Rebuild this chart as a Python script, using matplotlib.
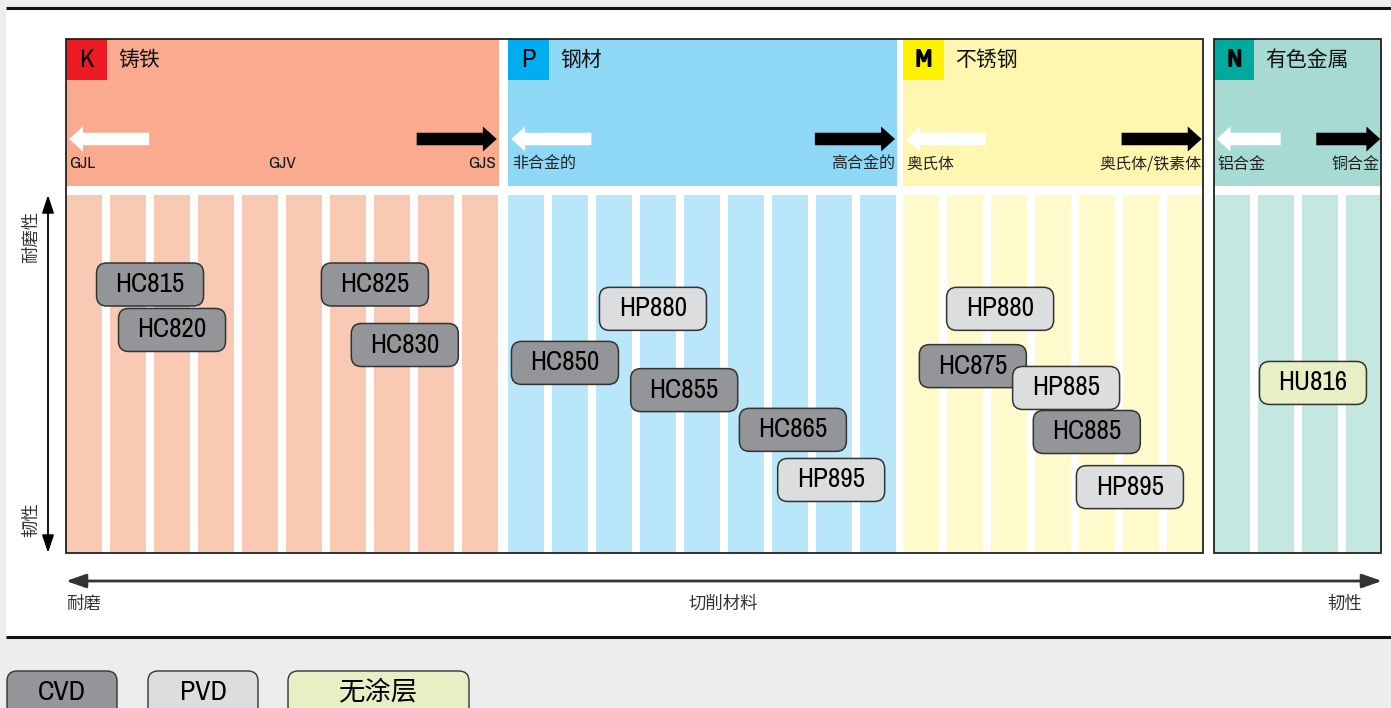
import matplotlib
matplotlib.use('Agg')
import matplotlib.pyplot as plt
from matplotlib import font_manager as fm
from matplotlib.patches import Rectangle, FancyBboxPatch

plt.rcParams['font.family'] = ['Noto Sans CJK SC', 'DejaVu Sans']

# narrow latin font for the grade names, if one is installed
def pick_narrow(bold=False):
    fonts = fm.fontManager.ttflist
    weights = (700, 'bold') if bold else (400, 'normal', 'regular')
    tests = [lambda f: f.name == 'Liberation Sans Narrow',
             lambda f: 'Narrow' in f.name or 'Condensed' in f.name,
             lambda f: f.stretch in ('condensed', 'semi-condensed', 'extra-condensed')]
    for test in tests:
        for f in fonts:
            if test(f) and f.style == 'normal' and f.weight in weights:
                return fm.FontProperties(fname=f.fname)
    return fm.FontProperties(family='Liberation Sans', weight='bold' if bold else 'normal')

narrow = pick_narrow()
narrow_b = pick_narrow(bold=True)

# ---- data ----
group_codes = ['K', 'P', 'M', 'N']
group_names = ['铸铁', '钢材', '不锈钢', '有色金属']
group_ncols = [10, 9, 7, 4]                 # number of stripe columns per group
group_start = [0.0, 10.05, 19.02, 26.08]    # first column of each group
group_left = ['GJL', '非合金的', '奥氏体', '铝合金']
group_mid = ['GJV', '', '', '']
group_right = ['GJS', '高合金的', '奥氏体/铁素体', '铜合金']

grade_names = ['HC815', 'HC820', 'HC825', 'HC830',
               'HP880', 'HC850', 'HC855', 'HC865', 'HP895',
               'HP880', 'HC875', 'HP885', 'HC885', 'HP895',
               'HU816']
grade_col = [1.91, 2.41, 7.02, 7.70,
             13.34, 11.34, 14.05, 16.52, 17.39,
             21.23, 20.61, 22.73, 23.20, 24.18,
             28.34]
grade_level = [75.0, 62.3, 75.0, 58.1,
               68.2, 53.1, 45.5, 34.4, 20.4,
               68.2, 52.2, 46.1, 33.8, 18.4,
               47.5]
grade_coat = ['CVD', 'CVD', 'CVD', 'CVD',
              'PVD', 'CVD', 'CVD', 'CVD', 'PVD',
              'PVD', 'CVD', 'PVD', 'CVD', 'PVD',
              '无涂层']

coat_labels = ['CVD', 'PVD', '无涂层']

# ---- styles ----
head_colors = ['#F9AA8F', '#8ED8F6', '#FFF7AF', '#A6DAD3']
stripe_colors = ['#FAC9B4', '#BAE6F9', '#FFFACC', '#C5E7E1']
code_colors = ['#ED1C24', '#00AEEF', '#FFF200', '#00A99D']
code_bold = [False, False, True, True]
coat_colors = {'CVD': '#939598', 'PVD': '#DCDDDF', '无涂层': '#E6F0C4'}

W, H = 1391, 708
fig = plt.figure(figsize=(W / 100, H / 100), dpi=100)
fig.patch.set_facecolor('#ECEEED')

# background layer in pixel units
bg = fig.add_axes([0, 0, 1, 1], zorder=0)
bg.set_xlim(0, W)
bg.set_ylim(H, 0)
bg.axis('off')
bg.add_patch(Rectangle((6, 8), W - 6, 629, fc='white', ec='none'))
bg.plot([6, W], [8, 8], color='#111111', lw=2.2, solid_capstyle='butt')
bg.plot([6, W], [637, 637], color='#111111', lw=2.2, solid_capstyle='butt')

# main chart axes: x in stripe columns, y in wear-resistance level
px_x, px_y = 44.0, 3.58
x0_px, y_top_px, y_bot_px, x1_px = 66, 39, 553, 1381
ax = fig.add_axes([x0_px / W, (H - y_bot_px) / H, (x1_px - x0_px) / W, (y_bot_px - y_top_px) / H], zorder=1)
xmax = (x1_px - x0_px) / px_x
ymax = (y_bot_px - y_top_px) / px_y
ax.set_xlim(0, xmax)
ax.set_ylim(0, ymax)
ax.axis('off')
ax.patch.set_alpha(0)

head_bot = (y_bot_px - 186) / px_y
stripe_top = (y_bot_px - 195) / px_y
code_h = 41 / px_y
arrow_y = (y_bot_px - 139) / px_y
lab_y = (y_bot_px - 164) / px_y
title_y = ymax - code_h / 2

for i, code in enumerate(group_codes):
    s = group_start[i]
    w = group_ncols[i] - 0.17
    ax.add_patch(Rectangle((s, head_bot), w, ymax - head_bot, fc=head_colors[i], ec='none'))
    for j in range(group_ncols[i]):
        ax.add_patch(Rectangle((s + j, 0), 0.82, stripe_top, fc=stripe_colors[i], ec='none'))
    ax.add_patch(Rectangle((s, ymax - code_h), 0.93, code_h, fc=code_colors[i], ec='none'))
    ax.text(s + 0.465, title_y, code, ha='center', va='center',
            fontproperties=narrow_b if code_bold[i] else narrow, fontsize=19, color='black')
    ax.text(s + 1.18, title_y, group_names[i], ha='left', va='center', fontsize=15, color='#111111')

    alen = min(1.82, w * 0.38)
    ax.annotate('', xy=(s + 0.07, arrow_y), xytext=(s + 0.07 + alen, arrow_y),
                arrowprops=dict(arrowstyle='simple,head_length=0.5,head_width=0.9,tail_width=0.45',
                                mutation_scale=20, fc='white', ec='none', shrinkA=0, shrinkB=0))
    ax.annotate('', xy=(s + w - 0.04, arrow_y), xytext=(s + w - 0.04 - alen, arrow_y),
                arrowprops=dict(arrowstyle='simple,head_length=0.5,head_width=0.9,tail_width=0.45',
                                mutation_scale=20, fc='black', ec='none', shrinkA=0, shrinkB=0))
    for txt, xpos, ha in [(group_left[i], s + 0.08, 'left'), (group_mid[i], s + w / 2, 'center'),
                          (group_right[i], s + w - 0.05, 'right')]:
        if not txt:
            continue
        if txt.isascii():
            ax.text(xpos, lab_y, txt, ha=ha, va='center', fontproperties=narrow, fontsize=12.5,
                    color='#1a1a1a')
        else:
            ax.text(xpos, lab_y, txt, ha=ha, va='center', fontsize=11.5, color='#222222')

# frames
m_end = group_start[2] + group_ncols[2] - 0.17
ax.add_patch(Rectangle((0, 0), m_end, ymax, fill=False, ec='#222222', lw=1.3, clip_on=False))
ax.add_patch(Rectangle((group_start[3], 0), xmax - group_start[3], ymax, fill=False,
                       ec='#222222', lw=1.3, clip_on=False))

# grade boxes
bw, bh = 107 / px_x, 43 / px_y
for name, cx, cy, coat in zip(grade_names, grade_col, grade_level, grade_coat):
    ax.add_patch(FancyBboxPatch((cx - bw / 2, cy - bh / 2), bw, bh,
                                boxstyle='round,pad=0,rounding_size=0.23',
                                mutation_aspect=px_x / px_y,
                                fc=coat_colors[coat], ec='#333333', lw=1.1))
    ax.text(cx, cy, name, ha='center', va='center', fontproperties=narrow, fontsize=19.5, color='black')

# left wear / toughness arrow
bg.annotate('', xy=(48, 195), xytext=(48, 553),
            arrowprops=dict(arrowstyle='<|-|>,head_length=0.9,head_width=0.3', mutation_scale=12,
                            color='black', lw=1.3, shrinkA=0, shrinkB=0))
bg.text(31, 237, '耐磨性', rotation=90, ha='center', va='center', fontsize=12.5, color='#333333')
bg.text(31, 520, '韧性', rotation=90, ha='center', va='center', fontsize=12.5, color='#333333')

# bottom axis arrow
bg.annotate('', xy=(66, 581), xytext=(1382, 581),
            arrowprops=dict(arrowstyle='<|-|>,head_length=1.0,head_width=0.35', mutation_scale=12,
                            color='#333333', lw=2, shrinkA=0, shrinkB=0))
bg.text(66, 604, '耐磨', ha='left', va='center', fontsize=12.5, color='#333333')
bg.text(723, 604, '切削材料', ha='center', va='center', fontsize=12.5, color='#333333')
bg.text(1362, 604, '韧性', ha='right', va='center', fontsize=12.5, color='#333333')

# legend of coatings
leg_x = [7, 148, 288]
leg_w = [110, 110, 181]
for lx, lw_, lab in zip(leg_x, leg_w, coat_labels):
    bg.add_patch(FancyBboxPatch((lx, 671), lw_, 45, boxstyle='round,pad=0,rounding_size=10',
                                fc=coat_colors[lab], ec='#333333', lw=1.0))
    if lab.isascii():
        bg.text(lx + lw_ / 2, 692, lab, ha='center', va='center', fontproperties=narrow,
                fontsize=20, color='black')
    else:
        bg.text(lx + lw_ / 2, 692, lab, ha='center', va='center', fontsize=19, color='black')

fig.savefig('out.png', dpi=100, facecolor=fig.get_facecolor())
